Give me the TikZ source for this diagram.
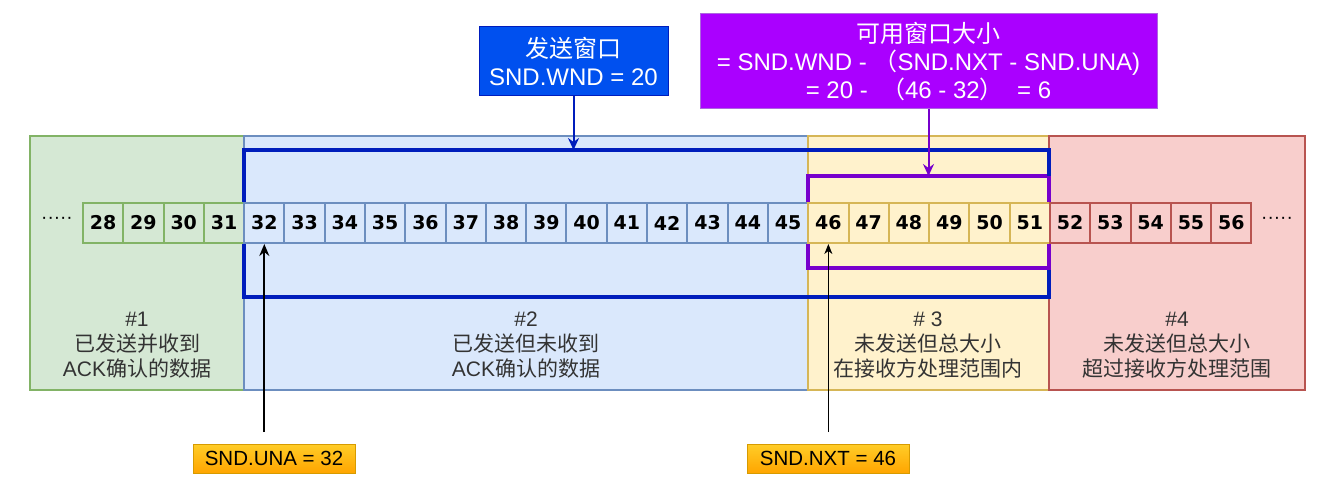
\documentclass[tikz,border=0pt]{standalone}
\usepackage{fontspec}
\setmainfont{Liberation Sans}
\newfontfamily\cjk{Noto Sans CJK SC}
\newfontfamily\numfont{DejaVu Sans}
\usetikzlibrary{arrows.meta}
\definecolor{gfill}{HTML}{D5E8D4}\definecolor{gline}{HTML}{82B366}
\definecolor{bfill}{HTML}{DAE8FC}\definecolor{bline}{HTML}{6C8EBF}
\definecolor{yfill}{HTML}{FFF2CC}\definecolor{yline}{HTML}{D6B656}
\definecolor{rfill}{HTML}{F8CECC}\definecolor{rline}{HTML}{B85450}
\definecolor{winblue}{HTML}{001DBC}\definecolor{boxblue}{HTML}{0050EF}
\definecolor{purpline}{HTML}{7700CC}\definecolor{purpfill}{HTML}{AA00FF}
\definecolor{otop}{HTML}{FFCD28}\definecolor{obot}{HTML}{FFA500}\definecolor{oline}{HTML}{D79B00}
\definecolor{txt}{HTML}{333333}
\tikzset{
  region/.style={draw, line width=2pt, anchor=north west, inner sep=0pt, outer sep=0pt},
  cell/.style={draw, line width=2pt, minimum width=40.29pt, minimum height=40pt, inner sep=0pt,
    font=\numfont\bfseries\fontsize{19}{19}\selectfont},
  rlabel/.style={align=center, text=txt, font=\fontsize{21}{25}\selectfont},
  frame/.style={draw, anchor=north west, inner sep=0pt, outer sep=0pt},
  infobox/.style={draw, line width=1pt, inner sep=0pt, outer sep=0pt, align=center, text=white, font=\fontsize{24}{28}\selectfont},
  ptr/.style={draw=oline, line width=1pt, top color=otop, bottom color=obot, inner sep=0pt,
    minimum width=162pt, minimum height=29pt, font=\fontsize{20.5}{20.5}\selectfont},
  dots/.style={font=\fontsize{19}{19}\selectfont},
}
\begin{document}
\begin{tikzpicture}[x=1pt,y=-1pt]
\useasboundingbox[fill=white] (0,0) rectangle (1322,500);
% regions
\node[region, fill=gfill, draw=gline, minimum width=214pt, minimum height=254pt] (r1) at (30,136) {};
\node[region, fill=bfill, draw=bline, minimum width=564pt, minimum height=254pt] (r2) at (244,136) {};
\node[region, fill=yfill, draw=yline, minimum width=241pt, minimum height=254pt] (r3) at (808,136) {};
\node[region, fill=rfill, draw=rline, minimum width=256pt, minimum height=254pt] (r4) at (1049,136) {};
% region labels
\node[rlabel] (l1) at (137,345) {\#1\\{\cjk 已发送并收到}\\ACK{\cjk 确认的数据}};
\node[rlabel] (l2) at (526,345) {\#2\\{\cjk 已发送但未收到}\\ACK{\cjk 确认的数据}};
\node[rlabel] (l3) at (928,345) {\# 3\\{\cjk 未发送但总大小}\\{\cjk 在接收方处理范围内}};
\node[rlabel] (l4) at (1177,345) {\#4\\{\cjk 未发送但总大小}\\{\cjk 超过接收方处理范围}};
% window frames
\node[frame, draw=winblue, line width=4pt, minimum width=805pt, minimum height=147pt] (win) at (244,150) {};
\node[frame, draw=purpline, line width=4pt, minimum width=241pt, minimum height=92pt] (avail) at (808,176) {};
\draw[winblue, line width=4pt] (win.north east) ++(0,2) -- (avail.north east);
% cells
\foreach \i in {28,...,31}{\node[cell, fill=gfill, draw=gline] (c\i) at ({83+20.145+(\i-28)*40.29},223) {\i};}
\foreach \i in {32,...,45}{\node[cell, fill=bfill, draw=bline] (c\i) at ({83+20.145+(\i-28)*40.29},223) {\i};}
\foreach \i in {46,...,51}{\node[cell, fill=yfill, draw=yline] (c\i) at ({83+20.145+(\i-28)*40.29},223) {\i};}
\foreach \i in {52,...,56}{\node[cell, fill=rfill, draw=rline] (c\i) at ({83+20.145+(\i-28)*40.29},223) {\i};}
\node[dots] (dl) at (57,220) {·····};
\node[dots] (dr) at (1277,220) {·····};
% info boxes
\node[infobox, fill=boxblue, draw=winblue, minimum width=189pt, minimum height=69pt] (wndbox) at (573.5,61.5)
  {{\cjk 发送窗口}\\SND.WND = 20};
\node[infobox, fill=purpfill, draw=purpline!60, minimum width=457pt, minimum height=95pt] (availbox) at (928.5,61.5)
  {{\cjk 可用窗口大小}\\= SND.WND - {\cjk （}SND.NXT - SND.UNA)\\= 20 - \ {\cjk （}46 - 32{\cjk ）} \ = 6};
\draw[winblue, line width=2pt, -{Stealth[length=12pt,width=11pt,inset=4pt]}] (wndbox.south) -- (wndbox.south |- win.north);
\draw[purpline, line width=2pt, -{Stealth[length=12pt,width=11pt,inset=4pt]}] (availbox.south) -- (availbox.south |- avail.north);
% pointers
\node[ptr] (una) at (274,458.5) {SND.UNA = 32};
\node[ptr] (nxt) at (828,458.5) {SND.NXT = 46};
\coordinate (unaTail) at (c32.south |- 0,432);
\coordinate (nxtTail) at (c46.south |- 0,432);
\draw[black, line width=2pt, -{Stealth[length=12pt,width=10pt,inset=4pt]}] (unaTail) -- (c32.south);
\draw[black, line width=1pt, -{Stealth[length=10pt,width=8pt,inset=3pt]}] (nxtTail) -- (c46.south);
\end{tikzpicture}
\end{document}
